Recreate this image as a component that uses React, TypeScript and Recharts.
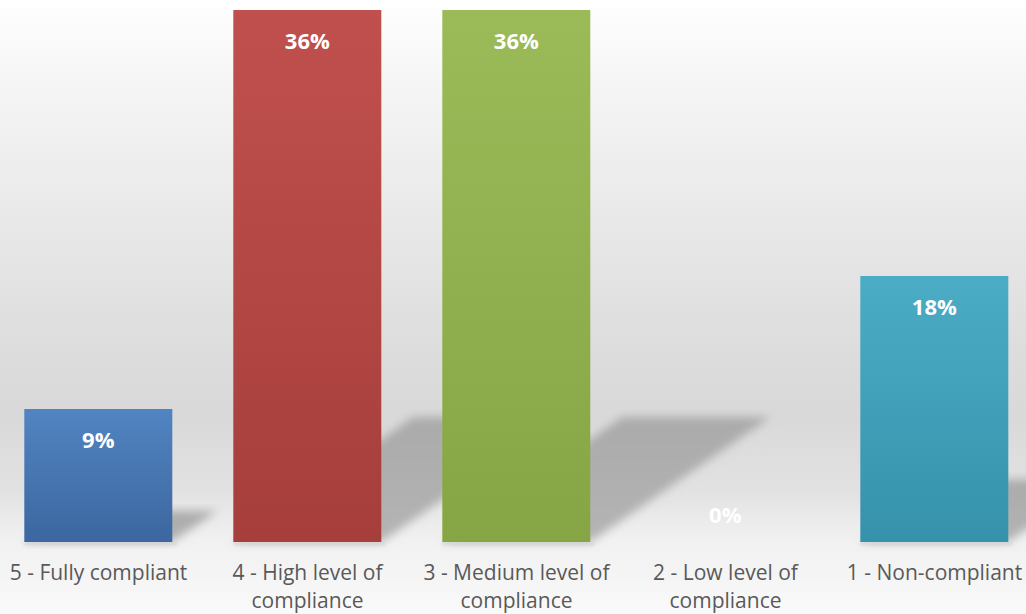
import React from 'react';
import { BarChart, Bar, XAxis, YAxis, LabelList } from 'recharts';

const categories = ['5 - Fully compliant', '4 - High level of compliance', '3 - Medium level of compliance', '2 - Low level of compliance', '1 - Non-compliant'];
const values = [9, 36, 36, 0, 18];
const valueLabels = ['9%', '36%', '36%', '0%', '18%'];
const topColors = ['#5184c1', '#c0504d', '#9bbb59', '#4bacc6', '#4bacc6'];
const bottomColors = ['#3c67a0', '#a63e3b', '#86a545', '#3692ab', '#3692ab'];

const data = categories.map((c, i) => ({ name: c, value: values[i] }));

const TICK_FONT = "21px 'Open Sans'";
let ctx: CanvasRenderingContext2D | null = null;
const measure = (s: string) => {
  if (!ctx) ctx = document.createElement('canvas').getContext('2d');
  if (!ctx) return s.length * 10;
  ctx.font = TICK_FONT;
  return ctx.measureText(s).width;
};
const wrap = (s: string, maxW: number) => {
  const words = s.split(' ');
  const lines: string[] = [];
  let cur = '';
  words.forEach((w) => {
    const t = cur ? cur + ' ' + w : w;
    if (cur && measure(t) > maxW) {
      lines.push(cur);
      cur = w;
    } else cur = t;
  });
  if (cur) lines.push(cur);
  return lines;
};

const BarShape = (props: any) => {
  const { x, y, width, height, index } = props;
  const base = y + height;
  const dy = height * 0.235;
  const dx = dy * 1.44;
  const pts = `${x},${base} ${x + width},${base} ${x + width + dx},${base - dy} ${x + dx},${base - dy}`;
  return (
    <g>
      {height > 0 && <polygon points={pts} fill="url(#shadowGrad)" filter="url(#blurShadow)" />}
      {height > 0 && <rect x={x} y={base} width={width + 4} height={3} fill="#d6d6d6" filter="url(#blurSmall)" />}
      {height > 0 && <rect x={x} y={y} width={width} height={height} fill={`url(#barGrad${index})`} />}
    </g>
  );
};

const Tick = (props: any) => {
  const { x, y, payload } = props;
  const lines = wrap(String(payload.value), 195);
  return (
    <text x={x} y={y} textAnchor="middle" fill="#595959" fontSize={21} fontFamily="'Open Sans', sans-serif">
      {lines.map((l, i) => (
        <tspan key={i} x={x} y={y + 30 + i * 28}>
          {l}
        </tspan>
      ))}
    </text>
  );
};

const ValueLabel = (props: any) => {
  const { x, y, width, height, index } = props;
  const cy = height > 0 ? y + 30 : y + height - 28;
  return (
    <text
      x={x + width / 2}
      y={cy}
      textAnchor="middle"
      dominantBaseline="central"
      fill="#ffffff"
      fontWeight="bold"
      fontSize={22}
      fontFamily="'Open Sans', sans-serif"
    >
      {valueLabels[index]}
    </text>
  );
};

export default function App() {
  return (
    <div
      style={{
        position: 'absolute',
        left: 0,
        top: 0,
        width: 1026,
        height: 614,
        overflow: 'hidden',
        background:
          'linear-gradient(to bottom, #ffffff 0%, #f6f6f6 12%, #e9e9e9 35%, #dcdcdc 58%, #d9d9d9 68%, #e2e2e2 80%, #f1f1f1 88%, #f4f4f4 93%, #fafafa 100%)',
      }}
    >
      <div style={{ position: 'absolute', left: -6, top: 0 }}>
        <BarChart width={1045} height={614} data={data} margin={{ top: 10, right: 0, bottom: 0, left: 0 }} barCategoryGap="14.5%">
          <defs>
            {topColors.map((c, i) => (
              <linearGradient key={i} id={`barGrad${i}`} x1="0" y1="0" x2="0" y2="1">
                <stop offset="0%" stopColor={c} />
                <stop offset="100%" stopColor={bottomColors[i]} />
              </linearGradient>
            ))}
            <linearGradient id="shadowGrad" x1="0" y1="1" x2="0" y2="0">
              <stop offset="0%" stopColor="#b4b4b4" />
              <stop offset="100%" stopColor="#aaaaaa" />
            </linearGradient>
            <filter id="blurShadow" x="-20%" y="-20%" width="140%" height="140%">
              <feGaussianBlur stdDeviation="5" />
            </filter>
            <filter id="blurSmall" x="-10%" y="-100%" width="120%" height="300%">
              <feGaussianBlur stdDeviation="1.5" />
            </filter>
          </defs>
          <XAxis dataKey="name" height={72} axisLine={false} tickLine={false} interval={0} tick={<Tick />} />
          <YAxis hide domain={[0, 36]} />
          <Bar dataKey="value" shape={<BarShape />} isAnimationActive={false}>
            <LabelList dataKey="value" content={<ValueLabel />} />
          </Bar>
        </BarChart>
      </div>
    </div>
  );
}
